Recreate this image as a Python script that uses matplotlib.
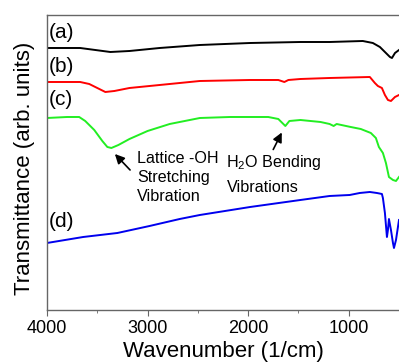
import matplotlib
matplotlib.use("Agg")
import matplotlib.pyplot as plt
from matplotlib.ticker import MultipleLocator

plt.rcParams["font.family"] = ["Liberation Sans", "DejaVu Sans"]
plt.rcParams["mathtext.default"] = "regular"

# FTIR spectra, offset transmittance in arbitrary units
wn_a = [4000, 3670, 3520, 3370, 3180, 2880, 2480, 1980, 1480, 1190,
        860, 760, 690, 640, 590, 570, 540, 500]
t_a = [262, 262, 260, 258, 259, 262, 265, 267, 268, 268,
       269, 267, 263, 258, 253, 252, 257, 260]

wn_b = [4000, 3670, 3580, 3480, 3420, 3330, 3180, 2880, 2480, 1980,
        1700, 1640, 1600, 1480, 1190, 790, 740, 710, 670, 640,
        610, 580, 540, 500]
t_b = [228, 228, 226, 221, 218, 219, 222, 225, 229, 230,
       230, 228, 230, 231, 232, 233, 227, 224, 222, 215,
       210, 209, 213, 215]

wn_c = [4000, 3800, 3680, 3620, 3530, 3450, 3400, 3360, 3290, 3180,
        3000, 2780, 2480, 2180, 1800, 1700, 1630, 1590, 1480, 1280,
        1190, 1150, 1120, 980, 880, 780, 730, 700, 660, 630,
        600, 560, 530, 500]
t_c = [192, 193, 193, 189, 180, 169, 163, 162, 165, 171,
       179, 186, 192, 193, 193, 191, 184, 189, 190, 188,
       186, 184, 186, 183, 181, 177, 172, 163, 157, 147,
       133, 130, 129, 133]

wn_d = [4000, 3640, 3300, 2980, 2680, 2480, 1980, 1480, 1190, 990,
        890, 790, 720, 670, 660, 640, 620, 610, 600, 580,
        560, 550, 530, 500]
t_d = [67, 73, 77, 84, 91, 95, 103, 110, 114, 115,
       117, 118, 117, 116, 112, 97, 73, 80, 91, 80,
       67, 62, 70, 90]

fig = plt.figure(figsize=(3.99, 3.64), dpi=100)
ax = fig.add_axes([0.1178, 0.1484, 0.8822, 0.8104])

ax.plot(wn_a, t_a, color="black", lw=1.4)
ax.plot(wn_b, t_b, color="#ff0000", lw=1.4)
ax.plot(wn_c, t_c, color="#22ee22", lw=1.4)
ax.plot(wn_d, t_d, color="#0000ee", lw=1.4)

ax.set_xlim(4000, 500)
ax.set_ylim(0, 295)

ax.xaxis.set_major_locator(MultipleLocator(1000))
ax.xaxis.set_minor_locator(MultipleLocator(500))
ax.set_yticks([])
ax.tick_params(axis="x", which="major", direction="out", length=4,
               color="#666666", labelsize=13, pad=3)
ax.tick_params(axis="x", which="minor", direction="out", length=2,
               color="#666666")

for side in ["left", "top", "bottom"]:
    ax.spines[side].set_color("#666666")
    ax.spines[side].set_linewidth(1.0)
ax.spines["right"].set_visible(False)

ax.set_xlabel("Wavenumber (1/cm)", fontsize=16, labelpad=3)
ax.set_ylabel("Transmittance (arb. units)", fontsize=16)
ax.yaxis.set_label_coords(-0.034, 0.481)

for lab, y in [("(a)", 277), ("(b)", 243), ("(c)", 210), ("(d)", 88)]:
    ax.text(3985, y, lab, fontsize=15, ha="left", va="center")

ax.text(3105, 147, "Lattice -OH", fontsize=11.6, va="baseline")
ax.text(3105, 128, "Stretching", fontsize=11.6, va="baseline")
ax.text(3105, 109, "Vibration", fontsize=11.6, va="baseline")
ax.annotate("", xy=(3344, 158), xytext=(3155, 138),
            arrowprops=dict(arrowstyle="-|>", color="black", lw=1.2,
                            mutation_scale=14))

ax.text(2220, 143, "H$_{2}$O Bending", fontsize=11.6, va="baseline")
ax.text(2210, 118, "Vibrations", fontsize=11.6, va="baseline")
ax.annotate("", xy=(1653, 180), xytext=(1763, 158),
            arrowprops=dict(arrowstyle="-|>", color="black", lw=1.2,
                            mutation_scale=14))

fig.savefig("out.png", dpi=100)
plt.close(fig)
